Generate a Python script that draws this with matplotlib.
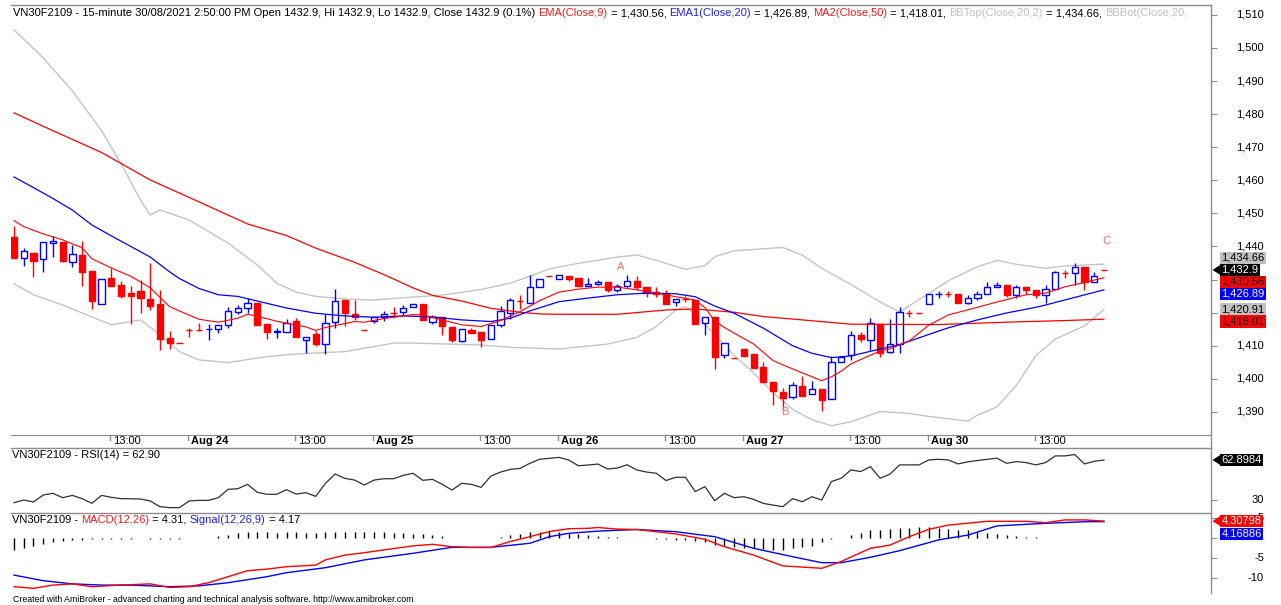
import numpy as np
import matplotlib
matplotlib.use('Agg')
import matplotlib.pyplot as plt
from matplotlib import transforms
from matplotlib.patches import Polygon
from matplotlib.lines import Line2D

plt.rcParams['font.family'] = ['Liberation Sans', 'DejaVu Sans']

# 15-minute bars, Aug 23 (9:00) .. Aug 30 (14:45)
opens = [1443.0, 1436.6, 1438.1, 1436.2, 1441.0, 1441.2, 1435.4, 1437.4, 1432.7, 1422.6,
         1430.6, 1428.4, 1425.9, 1426.4, 1424.1, 1422.5, 1412.3, 1410.9, 1414.7, 1414.7,
         1414.9, 1415.0, 1416.3, 1420.1, 1421.5, 1423.0, 1416.5, 1414.2, 1414.1, 1417.5,
         1411.6, 1413.6, 1410.6, 1417.1, 1423.9, 1419.7, 1414.8, 1417.6, 1418.6, 1419.8,
         1420.1, 1421.7, 1422.5, 1417.3, 1418.8, 1415.8, 1411.5, 1414.8, 1414.0, 1412.0,
         1416.3, 1419.8, 1423.5, 1423.0, 1427.7, 1431.2, 1430.2, 1431.2, 1430.6, 1427.9,
         1428.7, 1429.2, 1426.9, 1428.1, 1429.6, 1427.6, 1426.2, 1425.9, 1423.3, 1424.1,
         1423.8, 1416.8, 1418.8, 1407.2, 1406.4, 1409.0, 1407.4, 1403.7, 1399.0, 1396.1,
         1394.6, 1397.8, 1395.3, 1396.9, 1393.8, 1405.2, 1407.1, 1413.3, 1411.6, 1416.5,
         1408.2, 1410.4, 1419.8, 1419.8, 1422.5, 1425.6, 1425.7, 1425.7, 1423.0, 1424.5,
         1425.7, 1427.7, 1428.2, 1425.4, 1427.7, 1426.7, 1425.4, 1427.2, 1431.9, 1431.9,
         1433.7, 1429.4, 1432.9]
highs = [1446.2, 1439.5, 1438.1, 1441.2, 1443.3, 1441.2, 1440.5, 1441.7, 1432.7, 1430.1,
         1433.6, 1429.6, 1428.1, 1429.9, 1435.1, 1426.7, 1414.3, 1410.9, 1415.5, 1416.8,
         1416.5, 1416.3, 1421.8, 1422.3, 1424.5, 1423.0, 1416.5, 1415.3, 1418.0, 1418.3,
         1412.6, 1414.5, 1419.5, 1427.1, 1423.9, 1423.8, 1414.8, 1418.6, 1420.5, 1421.7,
         1422.3, 1422.5, 1422.5, 1419.3, 1418.8, 1415.8, 1415.0, 1415.3, 1414.0, 1416.3,
         1422.0, 1424.5, 1425.4, 1431.4, 1430.1, 1431.2, 1431.4, 1431.2, 1430.6, 1430.6,
         1429.8, 1429.2, 1428.7, 1431.4, 1431.2, 1427.6, 1427.7, 1426.9, 1424.1, 1425.1,
         1423.8, 1418.8, 1418.8, 1410.9, 1406.4, 1409.0, 1407.4, 1405.2, 1399.0, 1397.2,
         1399.1, 1400.9, 1399.4, 1396.9, 1407.0, 1407.0, 1414.5, 1414.0, 1418.3, 1416.5,
         1418.0, 1421.8, 1420.8, 1419.8, 1425.6, 1426.4, 1426.4, 1425.7, 1425.3, 1426.5,
         1429.4, 1429.4, 1428.2, 1428.4, 1427.7, 1426.7, 1428.4, 1432.6, 1432.9, 1434.9,
         1433.7, 1432.2, 1432.9]
lows = [1436.5, 1434.1, 1430.9, 1432.2, 1436.7, 1435.6, 1433.9, 1428.1, 1421.0, 1422.6,
        1428.1, 1424.4, 1416.5, 1419.8, 1420.8, 1408.7, 1409.0, 1410.9, 1412.7, 1414.3,
        1411.8, 1413.8, 1415.3, 1419.5, 1420.0, 1416.3, 1412.0, 1412.3, 1414.1, 1412.6,
        1407.7, 1410.0, 1407.4, 1415.3, 1416.1, 1417.8, 1414.8, 1417.0, 1417.5, 1418.8,
        1419.3, 1421.7, 1417.9, 1416.5, 1413.3, 1411.0, 1411.1, 1413.8, 1409.7, 1412.0,
        1415.6, 1418.0, 1421.0, 1423.0, 1427.7, 1431.2, 1430.2, 1429.7, 1427.9, 1427.9,
        1428.4, 1426.2, 1426.3, 1427.7, 1426.9, 1424.8, 1424.7, 1422.6, 1422.1, 1423.3,
        1416.6, 1413.3, 1402.9, 1406.4, 1406.4, 1407.0, 1403.2, 1398.9, 1392.1, 1390.6,
        1393.8, 1394.9, 1395.3, 1390.4, 1393.8, 1405.2, 1405.7, 1411.1, 1408.7, 1406.7,
        1407.7, 1407.7, 1418.8, 1419.8, 1422.5, 1424.5, 1424.8, 1423.0, 1422.5, 1423.8,
        1425.7, 1427.7, 1424.8, 1424.4, 1425.6, 1424.4, 1423.0, 1427.2, 1430.4, 1428.4,
        1426.9, 1429.4, 1432.9]
closes = [1436.5, 1438.6, 1435.6, 1441.2, 1441.8, 1435.6, 1437.7, 1432.4, 1423.6, 1430.1,
          1428.1, 1425.1, 1425.1, 1424.5, 1422.0, 1412.0, 1410.8, 1410.9, 1414.7, 1414.7,
          1415.0, 1416.3, 1420.6, 1421.3, 1423.0, 1416.3, 1414.1, 1414.3, 1416.8, 1412.6,
          1412.6, 1410.6, 1417.0, 1423.4, 1419.9, 1418.8, 1414.8, 1418.6, 1419.6, 1419.8,
          1421.5, 1422.5, 1417.9, 1418.6, 1416.0, 1411.8, 1415.0, 1413.8, 1411.8, 1416.3,
          1420.5, 1423.8, 1423.5, 1427.7, 1430.1, 1431.2, 1431.4, 1430.2, 1427.9, 1428.7,
          1429.3, 1426.9, 1428.1, 1429.6, 1427.6, 1425.8, 1425.7, 1422.6, 1424.1, 1424.1,
          1416.6, 1418.8, 1406.7, 1410.9, 1406.4, 1407.0, 1403.2, 1398.9, 1396.4, 1394.1,
          1398.1, 1394.9, 1396.8, 1393.6, 1405.0, 1406.7, 1413.3, 1412.1, 1416.8, 1407.7,
          1410.4, 1420.1, 1419.8, 1419.8, 1425.6, 1425.7, 1425.7, 1423.0, 1424.5, 1425.7,
          1427.6, 1428.4, 1425.4, 1427.7, 1426.7, 1425.4, 1427.1, 1432.4, 1431.9, 1433.7,
          1429.2, 1431.2, 1432.9]

# indicator lines at (bar, value) vertices
ema9_bars = [0, 1, 3, 5, 7, 8, 10, 12, 14, 15, 16, 17, 19, 21, 23, 24, 25, 27, 28, 30, 31, 32,
             35, 36, 38, 41, 42, 44, 46, 48, 50, 52, 54, 56, 58, 60, 62, 64, 66, 68, 70, 71, 72,
             73, 74, 76, 78, 79, 81, 83, 84, 85, 86, 87, 89, 90, 92, 94, 96, 99, 101, 104, 106,
             108, 110, 112]
ema9_vals = [1447.8, 1446.0, 1443.8, 1442.0, 1439.6, 1436.3, 1433.5, 1431.0, 1427.5, 1424.6,
             1421.8, 1420.5, 1418.0, 1417.1, 1418.3, 1419.5, 1418.9, 1417.4, 1416.8, 1415.7,
             1414.6, 1415.5, 1417.3, 1417.1, 1418.2, 1419.4, 1419.3, 1417.8, 1416.3, 1415.8,
             1417.6, 1420.3, 1423.6, 1426.2, 1427.1, 1427.7, 1427.7, 1426.9, 1425.9, 1424.8,
             1423.8, 1421.5, 1417.5, 1415.5, 1413.8, 1410.5, 1405.5, 1404.2, 1401.8, 1399.4,
             1400.6, 1402.3, 1404.5, 1405.8, 1408.4, 1409.0, 1411.5, 1416.2, 1419.3, 1421.6,
             1423.2, 1425.4, 1425.9, 1427.8, 1429.1, 1430.56]
ema20_bars = [0, 2, 4, 6, 8, 10, 12, 14, 16, 17, 19, 21, 23, 25, 28, 31, 34, 37, 40, 43, 46,
              49, 51, 53, 56, 59, 62, 65, 68, 70, 72, 74, 77, 80, 82, 84, 86, 88, 91, 94, 96,
              99, 102, 105, 106, 109, 112]
ema20_vals = [1461.0, 1457.8, 1454.5, 1451.0, 1446.5, 1443.2, 1440.0, 1436.8, 1432.3, 1430.3,
              1427.3, 1425.4, 1424.9, 1423.5, 1421.4, 1419.8, 1419.0, 1418.6, 1419.0, 1418.7,
              1417.8, 1417.3, 1418.3, 1420.5, 1423.3, 1424.4, 1425.4, 1425.9, 1425.7, 1424.8,
              1422.0, 1419.8, 1415.3, 1410.0, 1407.7, 1406.4, 1406.9, 1408.3, 1410.3, 1413.4,
              1415.4, 1417.8, 1419.9, 1421.6, 1422.3, 1424.6, 1426.89]
ma50_bars = [0, 4, 9, 14, 19, 24, 28, 31, 35, 38, 41, 43, 46, 49, 52, 54, 56, 62, 67, 70, 74,
             77, 81, 86, 95, 103, 108, 112]
ma50_vals = [1480.4, 1475.0, 1468.4, 1460.1, 1453.5, 1446.8, 1443.3, 1439.5, 1435.2, 1431.5,
             1427.5, 1425.2, 1423.5, 1421.3, 1420.1, 1419.6, 1419.5, 1419.5, 1420.8, 1421.1,
             1420.1, 1418.8, 1417.8, 1416.5, 1416.4, 1417.2, 1417.6, 1418.01]
bbtop_bars = [0, 3, 6, 9, 11, 13, 14, 15, 18, 20, 22, 25, 27, 29, 31, 34, 37, 40, 44, 48, 51,
              53, 55, 58, 62, 64, 66, 69, 71, 72, 74, 79, 81, 83, 86, 89, 91, 94, 96, 99, 101,
              103, 106, 108, 112]
bbtop_vals = [1505.5, 1497.0, 1487.0, 1475.0, 1465.0, 1454.0, 1449.5, 1451.0, 1448.0, 1444.5,
              1441.0, 1434.4, 1428.9, 1426.2, 1424.9, 1424.1, 1423.8, 1424.5, 1425.3, 1427.0,
              1428.9, 1431.0, 1433.2, 1434.9, 1436.8, 1437.4, 1435.8, 1433.1, 1434.2, 1436.9,
              1438.7, 1439.7, 1437.4, 1433.4, 1428.5, 1423.2, 1420.2, 1425.8, 1429.6, 1433.9,
              1435.8, 1434.6, 1433.4, 1434.1, 1434.66]
bbbot_bars = [0, 2, 5, 10, 13, 15, 17, 19, 22, 26, 29, 34, 39, 41, 48, 51, 56, 61, 64, 66, 68,
              69, 70, 72, 74, 76, 78, 80, 82, 84, 86, 89, 92, 94, 98, 99, 101, 103, 105, 107,
              110, 112]
bbbot_vals = [1428.7, 1425.4, 1422.3, 1416.3, 1417.8, 1413.3, 1408.2, 1405.7, 1404.9, 1406.7,
              1407.5, 1408.2, 1410.8, 1410.8, 1410.2, 1409.5, 1409.0, 1410.5, 1412.5, 1415.8,
              1420.8, 1421.8, 1419.3, 1413.5, 1407.0, 1401.8, 1395.8, 1390.8, 1387.6, 1385.8,
              1387.0, 1390.1, 1389.5, 1388.6, 1387.2, 1389.0, 1391.5, 1398.0, 1407.0, 1412.0,
              1416.0, 1420.91]

rsi = [27.8, 30.0, 28.4, 34.1, 35.5, 31.9, 33.8, 31.1, 27.3, 33.8,
       32.2, 31.1, 31.0, 30.8, 29.2, 24.5, 23.7, 23.7, 29.2, 29.7,
       29.7, 31.9, 38.8, 39.3, 42.9, 36.3, 34.7, 34.7, 38.5, 34.9,
       36.0, 33.0, 43.7, 51.4, 47.8, 46.4, 42.3, 46.4, 47.5, 47.5,
       50.3, 52.0, 46.2, 47.0, 42.9, 38.2, 43.7, 42.9, 40.4, 49.7,
       53.0, 55.2, 56.0, 60.2, 63.5, 64.3, 65.1, 62.9, 58.2, 58.8,
       59.6, 55.5, 56.3, 59.0, 54.7, 53.0, 52.0, 46.0, 48.7, 48.7,
       36.9, 41.0, 29.4, 35.5, 31.9, 32.7, 30.5, 27.2, 25.8, 24.5,
       31.1, 28.6, 32.7, 30.0, 45.2, 47.9, 54.8, 53.4, 57.5, 47.9,
       51.2, 58.9, 58.9, 58.9, 63.0, 63.5, 63.0, 59.7, 61.4, 62.5,
       63.5, 64.4, 60.2, 61.6, 60.8, 58.9, 60.8, 66.3, 66.3, 67.4,
       59.7, 61.9, 62.8984]

macd_bars = [0, 2, 4, 6, 8, 11, 14, 16, 18, 20, 22, 24, 26, 28, 31, 32, 34, 36, 38, 41, 43, 45,
             47, 49, 51, 53, 55, 57, 59, 60, 62, 64, 68, 71, 73, 76, 79, 83, 85, 88, 90, 92, 94,
             96, 100, 104, 106, 108, 110, 112]
macd_vals = [-12.1, -12.5, -11.7, -11.4, -12.1, -11.7, -11.4, -12.3, -12.1, -11.1, -9.6, -8.1,
             -7.7, -7.1, -6.7, -5.4, -4.2, -3.6, -2.9, -1.9, -1.5, -2.1, -2.3, -2.3, -0.8, 0.4,
             1.7, 2.4, 2.5, 2.7, 2.3, 2.2, 1.1, -0.25, -2.1, -4.2, -6.9, -7.5, -5.8, -2.5, -1.7,
             0.4, 2.25, 3.3, 4.25, 4.25, 3.9, 4.6, 4.6, 4.30798]
signal_bars = [0, 3, 6, 9, 12, 16, 19, 22, 26, 28, 32, 36, 41, 45, 49, 53, 55, 57, 60, 64, 68,
               72, 76, 80, 83, 85, 88, 91, 95, 98, 101, 106, 110, 112]
signal_vals = [-9.2, -10.6, -11.4, -11.7, -11.7, -12.1, -11.9, -11.1, -9.6, -8.6, -7.35, -5.4,
               -3.75, -2.25, -2.25, -1.25, 0.4, 1.25, 1.8, 2.2, 1.65, 0.4, -2.5, -4.6, -6.1, -6.1,
               -4.75, -3.1, -0.4, 0.8, 3.1, 3.75, 4.15, 4.16886]
macd_hist = [-3.0, -2.5, -2.0, -1.4, -1.0, -0.7, -0.5, -0.35, -0.25, -0.2,
             -0.15, -0.1, -0.05, 0.0, -0.05, -0.1, -0.1, -0.05, 0.0, 0.05,
             0.2, 0.5, 0.9, 1.3, 1.7, 1.6, 1.5, 1.4, 1.5, 1.5,
             1.4, 1.4, 1.6, 1.7, 1.7, 1.6, 1.6, 1.6, 1.5, 1.4,
             1.3, 1.1, 1.0, 0.8, 0.5, 0.2, 0.05, 0.0, 0.0, 0.1,
             0.4, 0.8, 1.1, 1.5, 1.7, 1.8, 1.6, 1.3, 1.0, 0.8,
             0.6, 0.4, 0.3, 0.2, 0.1, 0.05, -0.05, -0.2, -0.3, -0.4,
             -0.6, -1.0, -1.7, -2.0, -2.2, -2.5, -2.5, -2.7, -2.8, -2.8,
             -2.5, -2.1, -1.8, -0.9, -0.2, 0.1, 0.8, 1.4, 2.1, 2.0,
             2.3, 2.5, 2.6, 2.8, 2.8, 2.6, 2.4, 2.2, 2.0, 1.7,
             1.4, 1.1, 0.8, 0.6, 0.4, 0.3, 0.2, 0.15, 0.1, 0.1,
             0.1, 0.1, 0.14]

# time axis labels (bar index, text, bold)
time_ticks = [(10, '13:00', False), (18, 'Aug 24', True), (29, '13:00', False), (37, 'Aug 25', True),
              (48, '13:00', False), (56, 'Aug 26', True), (67, '13:00', False), (75, 'Aug 27', True),
              (86, '13:00', False), (94, 'Aug 30', True), (105, '13:00', False)]

# wave labels (bar, price, text)
wave_labels = [(62.3, 1433.8, 'A'), (79.2, 1390.0, 'B'), (112.3, 1441.7, 'C')]

RED = '#ff0000'
BLUE = '#0000ff'
GRAY = '#c4c4c4'
FRAME = '#8c8c8c'
W, H = 1281, 605

fig = plt.figure(figsize=(W / 100, H / 100), dpi=100)


def px_box(left, top, right, bottom):
    return [left / W, 1 - bottom / H, (right - left) / W, (bottom - top) / H]


ax = fig.add_axes(px_box(11, 5, 1211, 435))
ax_rsi = fig.add_axes(px_box(11, 448, 1211, 513))
ax_macd = fig.add_axes(px_box(11, 513, 1211, 593))

for a in (ax, ax_rsi, ax_macd):
    a.set_facecolor('none')
    a.set_xlim(-0.31, 123.0)
    a.set_xticks([])
    for side in ('left', 'right', 'bottom'):
        a.spines[side].set_visible(False)
    a.spines['top'].set_color(FRAME)
    a.spines['top'].set_linewidth(1)
    a.tick_params(axis='y', left=False, right=True, labelleft=False, labelright=False,
                  length=4, width=0.8, color=FRAME, direction='out')
ax.spines['bottom'].set_visible(True)
ax.spines['bottom'].set_color(FRAME)
ax.set_ylim(1383.0, 1513.0)
ax_rsi.set_ylim(19.3, 72.8)
ax_macd.set_ylim(-13.68, 6.33)

# right vertical axis line through all panes
fig.add_artist(Line2D([1211 / W, 1211 / W], [1 - 5 / H, 1 - 593 / H], color=FRAME, lw=1))

# candles
o = np.array(opens)
c = np.array(closes)
idx = np.arange(len(c))
up = c > o
col = np.where(up, BLUE, RED)
ax.vlines(idx, lows, highs, colors=col, lw=1, zorder=2)
ax.bar(idx, c - o, bottom=o, width=0.64, color=np.where(up, 'white', RED),
       edgecolor=col, linewidth=1, zorder=3)

# indicators
ax.plot(bbtop_bars, bbtop_vals, color=GRAY, lw=1, zorder=1)
ax.plot(bbbot_bars, bbbot_vals, color=GRAY, lw=1, zorder=1)
ax.plot(ma50_bars, ma50_vals, color=RED, lw=0.9, zorder=4)
ax.plot(ema20_bars, ema20_vals, color=BLUE, lw=0.9, zorder=4)
ax.plot(ema9_bars, ema9_vals, color=RED, lw=0.8, zorder=4)

for bx, by, s in wave_labels:
    ax.text(bx, by, s, color='#ff6a6a', fontsize=8, ha='center', va='center')

# time labels in the band under the price pane
tr_time = transforms.blended_transform_factory(ax.transData, fig.transFigure)
for b, s, bold in time_ticks:
    fig.add_artist(Line2D([b - 0.13, b - 0.13], [1 - 435 / H, 1 - 440 / H], color=FRAME,
                          lw=1, transform=tr_time))
    fig.text(b + 0.2, 1 - 441 / H, s, transform=tr_time, fontsize=8, ha='left', va='center',
             fontweight='bold' if bold else 'normal')

ax_rsi.plot(idx, rsi, color='#303030', lw=0.9)

ax_macd.vlines(idx, 0, macd_hist, colors='black', lw=1)
ax_macd.plot(signal_bars, signal_vals, color=BLUE, lw=1)
ax_macd.plot(macd_bars, macd_vals, color=RED, lw=1)


# scale labels on the right (ticks everywhere, labels only where no tag sits on top)
def scale_labels(axis, values, shown, fmt):
    axis.set_yticks(values)
    tr = transforms.blended_transform_factory(fig.transFigure, axis.transData)
    for v in shown:
        fig.text(1264 / W, v, fmt(v), transform=tr, fontsize=8, ha='right', va='center',
                 zorder=5)


scale_labels(ax, list(range(1390, 1511, 10)),
             [v for v in range(1390, 1511, 10) if v not in (1420, 1430)], lambda v: f'{v:,}')
scale_labels(ax_rsi, [30], [30], lambda v: f'{v}')
# the '5' mostly sits under the red MACD tag, as in the original
scale_labels(ax_macd, [-10, -5, 0, 5], [-10, -5, 5], lambda v: f'{v}')


# value tags, pushed apart so they don't overlap
def place_tags(axis, items, anchor, gap=12):
    ys = [H - axis.transData.transform((0, it[0]))[1] for it in items]
    for k in range(anchor + 1, len(ys)):
        ys[k] = max(ys[k], ys[k - 1] + gap)
    for k in range(anchor - 1, -1, -1):
        ys[k] = min(ys[k], ys[k + 1] - gap)
    for y, (v, label, bg, fg, arrow) in zip(ys, items):
        fig.text(1221.5 / W, 1 - y / H, label, fontsize=8, color=fg, ha='left', va='center',
                 bbox=dict(boxstyle='square,pad=0.12', fc=bg, ec='none'), zorder=10)
        if arrow:
            fig.add_artist(Polygon([(1212.5 / W, 1 - y / H), (1221 / W, 1 - (y - 5.5) / H),
                                    (1221 / W, 1 - (y + 5.5) / H)], closed=True, fc=bg,
                                   ec='none', transform=fig.transFigure, zorder=10))


place_tags(ax, [(bbtop_vals[-1], f'{bbtop_vals[-1]:,.2f}', '#c0c0c0', 'black', False),
                (closes[-1], f'{closes[-1]:,.1f}', 'black', 'white', True),
                (ema9_vals[-1], f'{ema9_vals[-1]:,.2f}', RED, 'black', False),
                (ema20_vals[-1], f'{ema20_vals[-1]:,.2f}', BLUE, 'white', False),
                (bbbot_vals[-1], f'{bbbot_vals[-1]:,.2f}', '#c0c0c0', 'black', False),
                (ma50_vals[-1], f'{ma50_vals[-1]:,.2f}', RED, 'black', False)], anchor=1)
place_tags(ax_rsi, [(rsi[-1], f'{rsi[-1]:.4f}', 'black', 'white', True)], anchor=0)
place_tags(ax_macd, [(macd_vals[-1], f'{macd_vals[-1]:.5f}', RED, 'white', True),
                     (signal_vals[-1], f'{signal_vals[-1]:.5f}', BLUE, 'white', False)],
           anchor=0, gap=13)


# multi-coloured title lines, each piece chained to the end of the previous one
def colored_title(host, x, y, parts, size=8):
    t = fig.text(x / W, 1 - y / H, parts[0][0], color=parts[0][1], fontsize=size,
                 ha='left', va='center')
    for s, colr in parts[1:]:
        t = host.annotate(s, xy=(1, 0.5), xycoords=t, color=colr, fontsize=size,
                          ha='left', va='center', annotation_clip=False)
        t.set_clip_on(False)


colored_title(ax, 13, 13, [
    ('VN30F2109 - 15-minute 30/08/2021 2:50:00 PM Open 1432.9, Hi 1432.9, Lo 1432.9, '
     'Close 1432.9 (0.1%) ', 'black'),
    ('EMA(Close,9)', '#ee1c1c'), (' = 1,430.56, ', 'black'),
    ('EMA1(Close,20)', '#2020ee'), (' = 1,426.89, ', 'black'),
    ('MA2(Close,50)', '#ee1c1c'), (' = 1,418.01, ', 'black'),
    ('BBTop(Close,20,2)', '#c0c0c0'), (' = 1,434.66, ', 'black'),
    ('BBBot(Close,20,', '#c0c0c0')])
colored_title(ax_rsi, 12, 455, [('VN30F2109 - RSI(14) = 62.90', 'black')])
colored_title(ax_macd, 12, 520, [('VN30F2109 - ', 'black'), ('MACD(12,26)', '#ee1c1c'),
                                 (' = 4.31, ', 'black'), ('Signal(12,26,9)', '#2020ee'),
                                 (' = 4.17', 'black')])

fig.text(13 / W, 1 - 600 / H, 'Created with AmiBroker - advanced charting and technical '
         'analysis software. http://www.amibroker.com', fontsize=6.3, ha='left', va='center')

fig.savefig('out.png', dpi=100)
